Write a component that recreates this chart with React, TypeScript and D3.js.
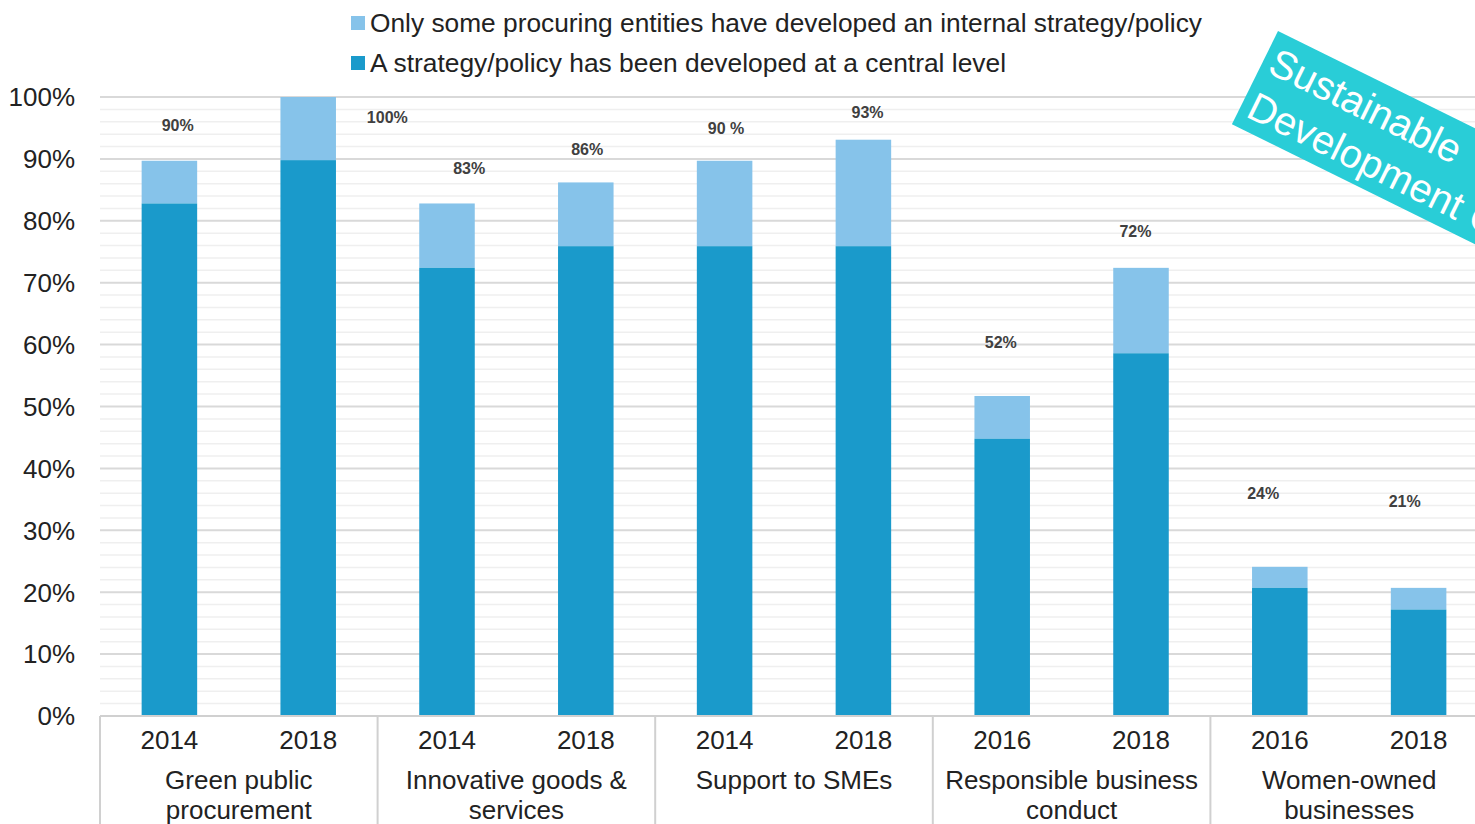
import React from "react";
import * as d3 from "d3";

const groups = ["Green public procurement", "Innovative goods & services", "Support to SMEs", "Responsible business conduct", "Women-owned businesses"];
const groupLines = [["Green public", "procurement"], ["Innovative goods &", "services"], ["Support to SMEs"], ["Responsible business", "conduct"], ["Women-owned", "businesses"]];
const years = ["2014", "2018", "2014", "2018", "2014", "2018", "2016", "2018", "2016", "2018"];
const centralValues = [82.8, 89.8, 72.4, 75.9, 75.9, 75.9, 44.8, 58.6, 20.7, 17.2];
const totalValues = [89.7, 100, 82.8, 86.2, 89.7, 93.1, 51.7, 72.4, 24.1, 20.7];
const valueLabels = ["90%", "100%", "83%", "86%", "90 %", "93%", "52%", "72%", "24%", "21%"];
// label anchor in data units (percent) and horizontal offset in bar-steps
const labelAt = [95.4, 96.7, 88.4, 91.5, 95.0, 97.5, 60.3, 78.3, 35.9, 34.6];
const labelShift = [0.06, 0.57, 0.16, 0.01, 0.01, 0.03, -0.01, -0.04, -0.12, -0.1];
const yTicks = [0, 10, 20, 30, 40, 50, 60, 70, 80, 90, 100];
const legendItems = ["Only some procuring entities have developed an internal strategy/policy", "A strategy/policy has been developed at a central level"];

const DARK = "#1A9ACB";
const LIGHT = "#86C3EA";
const FONT = "'Liberation Sans', Arial, sans-serif";

export default function App() {
  const W = 1475, H = 824;
  const left = 100, right = 1488, top = 97, bottom = 716;
  const ids = years.map((_, i) => String(i));
  const x = d3.scaleBand<string>().domain(ids).range([left, right]).paddingInner(0.6).paddingOuter(0.3);
  const y = d3.scaleLinear().domain([0, 100]).range([bottom, top]);
  const step = x.step();
  const minor = d3.range(0, 101, 2);
  const groupStart = (g: number) => left + g * 2 * step;

  return (
    <svg width={W} height={H} style={{ position: "absolute", left: 0, top: 0, fontFamily: FONT }}>
      <rect width={W} height={H} fill="#fff" />
      {minor.map((v) => (
        <line key={"m" + v} x1={left} x2={W} y1={y(v)} y2={y(v)} stroke={v % 10 === 0 ? "#d9d9d9" : "#efefef"} strokeWidth={v % 10 === 0 ? 2 : 1.5} />
      ))}
      {yTicks.map((v) => (
        <text key={"t" + v} x={75} y={y(v)} dy="0.36em" textAnchor="end" fontSize={26} fill="#222">{v}%</text>
      ))}
      {ids.map((id, i) => (
        <g key={"b" + i}>
          <rect x={x(id)} y={y(totalValues[i])} width={x.bandwidth()} height={y(centralValues[i]) - y(totalValues[i])} fill={LIGHT} />
          <rect x={x(id)} y={y(centralValues[i])} width={x.bandwidth()} height={y(0) - y(centralValues[i])} fill={DARK} />
          <text x={(x(id) as number) + x.bandwidth() / 2 + labelShift[i] * step} y={y(labelAt[i])} dy="0.35em" textAnchor="middle" fontSize={16} fontWeight="bold" fill="#404040">{valueLabels[i]}</text>
          <text x={(x(id) as number) + x.bandwidth() / 2} y={740} dy="0.36em" textAnchor="middle" fontSize={26} fill="#222">{years[i]}</text>
        </g>
      ))}
      <line x1={left} x2={W} y1={bottom} y2={bottom} stroke="#d0d0d0" strokeWidth={2} />
      {groups.map((g, gi) => (
        <g key={"g" + gi}>
          <line x1={groupStart(gi)} x2={groupStart(gi)} y1={bottom} y2={H} stroke="#d0d0d0" strokeWidth={2} />
          {groupLines[gi].map((ln, li) => (
            <text key={li} x={groupStart(gi) + step} y={780 + li * 30} dy="0.36em" textAnchor="middle" fontSize={26} fill="#222">{ln}</text>
          ))}
        </g>
      ))}
      {legendItems.map((t, i) => (
        <g key={"l" + i}>
          <rect x={351} y={16 + i * 40} width={14} height={14} fill={i === 0 ? LIGHT : DARK} />
          <text x={370} y={23 + i * 40} dy="0.36em" fontSize={25} fill="#222" textLength={i === 0 ? 832 : 636} lengthAdjust="spacingAndGlyphs">{t}</text>
        </g>
      ))}
      <g transform="translate(1278,31) rotate(26.3)">
        <rect x={0} y={0} width={500} height={104} fill="#29CDD7" />
        <text x={7.5} y={42} fontSize={40} fill="#fff">Sustainable</text>
        <text x={7.5} y={91} fontSize={40} fill="#fff">Development Goals</text>
      </g>
    </svg>
  );
}
